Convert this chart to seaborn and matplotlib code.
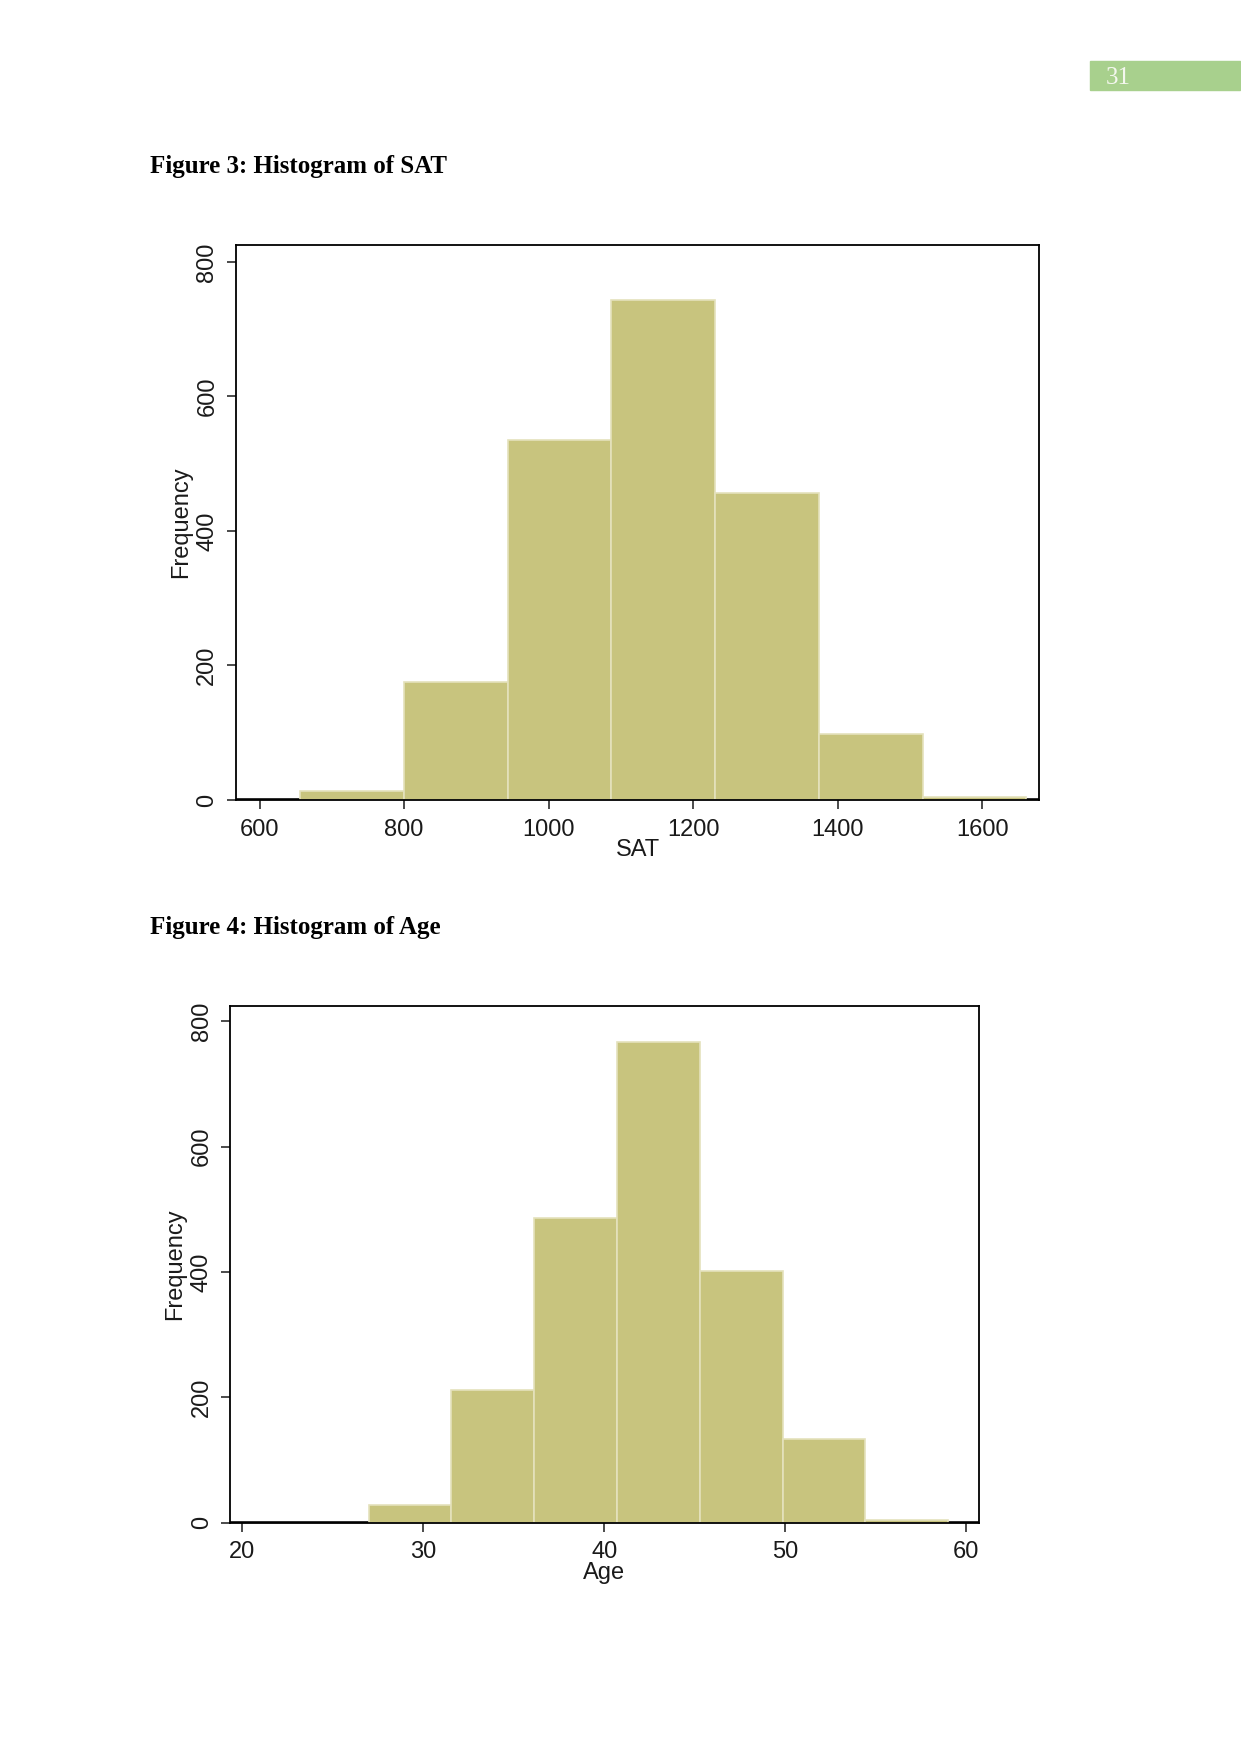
import matplotlib
matplotlib.use("Agg")
import matplotlib.pyplot as plt
import seaborn as sns
import numpy as np
import pandas as pd

sns.set_style("white")
plt.rcParams["font.family"] = ["Liberation Sans", "DejaVu Sans"]

# Figure 3: SAT histogram (7 bins, counts)
sat_edges = [656, 799.6, 943.2, 1086.8, 1230.4, 1374.0, 1517.6, 1661.2]
sat_counts = [14, 176, 535, 743, 457, 98, 5]
sat_ticks = [600, 800, 1000, 1200, 1400, 1600]

# Figure 4: Age histogram
age_edges = [27.0, 31.57, 36.14, 40.71, 45.29, 49.86, 54.43, 59.0]
age_counts = [28, 211, 486, 767, 402, 134, 5]
age_ticks = [20, 30, 40, 50, 60]

freq_ticks = [0, 200, 400, 600, 800]

BAR = "#C8C47E"
EDGE = "#E4E1BC"
TXT = "#1a1a1a"
W, H = 1241, 1754


def draw_hist(ax, edges, counts, xlim, xticks, xlabel):
    e = np.array(edges)
    df = pd.DataFrame({"x": (e[:-1] + e[1:]) / 2, "w": counts})
    ax.axhline(0, color="black", lw=2.6, zorder=0.5)
    sns.histplot(data=df, x="x", weights="w", bins=list(edges), ax=ax,
                 color=BAR, alpha=1, edgecolor=EDGE, linewidth=1.2, zorder=1)
    ax.set_xlim(*xlim)
    ax.set_ylim(0, 825)
    ax.set_xticks(xticks)
    ax.set_yticks(freq_ticks)
    ax.tick_params(axis="both", direction="out", length=6.5, width=1.1,
                   color=TXT, labelsize=17, labelcolor=TXT, bottom=True, left=True)
    ax.tick_params(axis="x", pad=7)
    ax.tick_params(axis="y", pad=6)
    for lab in ax.get_yticklabels():
        lab.set_rotation(90)
        lab.set_va("center")
        lab.set_ha("right")
    ax.set_xlabel(xlabel, fontsize=17, color=TXT, labelpad=-1)
    ax.set_ylabel("Frequency", fontsize=17, color=TXT, labelpad=3)
    for sp in ax.spines.values():
        sp.set_visible(True)
        sp.set_color("black")
        sp.set_linewidth(1.3)


fig = plt.figure(figsize=(W / 100, H / 100), dpi=100)

# page number box
fig.patches.append(plt.Rectangle((1090 / W, 1 - 89.5 / H), 150 / W, 28 / H,
                                 transform=fig.transFigure, color="#A8D08D", zorder=0))
fig.text(1106 / W, 1 - 83.5 / H, "31", fontsize=18, color="#F4F7EE",
         family=["Liberation Serif", "DejaVu Serif"], ha="left", va="baseline")

fig.text(150 / W, 1 - 173.3 / H, "Figure 3: Histogram of SAT", fontsize=18,
         fontweight="bold", family=["Liberation Serif", "DejaVu Serif"],
         ha="left", va="baseline", color="black")
fig.text(150 / W, 1 - 934.3 / H, "Figure 4: Histogram of Age", fontsize=18,
         fontweight="bold", family=["Liberation Serif", "DejaVu Serif"],
         ha="left", va="baseline", color="black")

ax1 = fig.add_axes([235.7 / W, 1 - 800 / H, (1039.3 - 235.7) / W, (800 - 245) / H])
draw_hist(ax1, sat_edges, sat_counts, (567, 1679), sat_ticks, "SAT")

ax2 = fig.add_axes([230 / W, 1 - 1522.7 / H, (979 - 230) / W, (1522.7 - 1005.7) / H])
draw_hist(ax2, age_edges, age_counts, (19.34, 60.7), age_ticks, "Age")

fig.savefig("out.png", dpi=100, facecolor="white")
